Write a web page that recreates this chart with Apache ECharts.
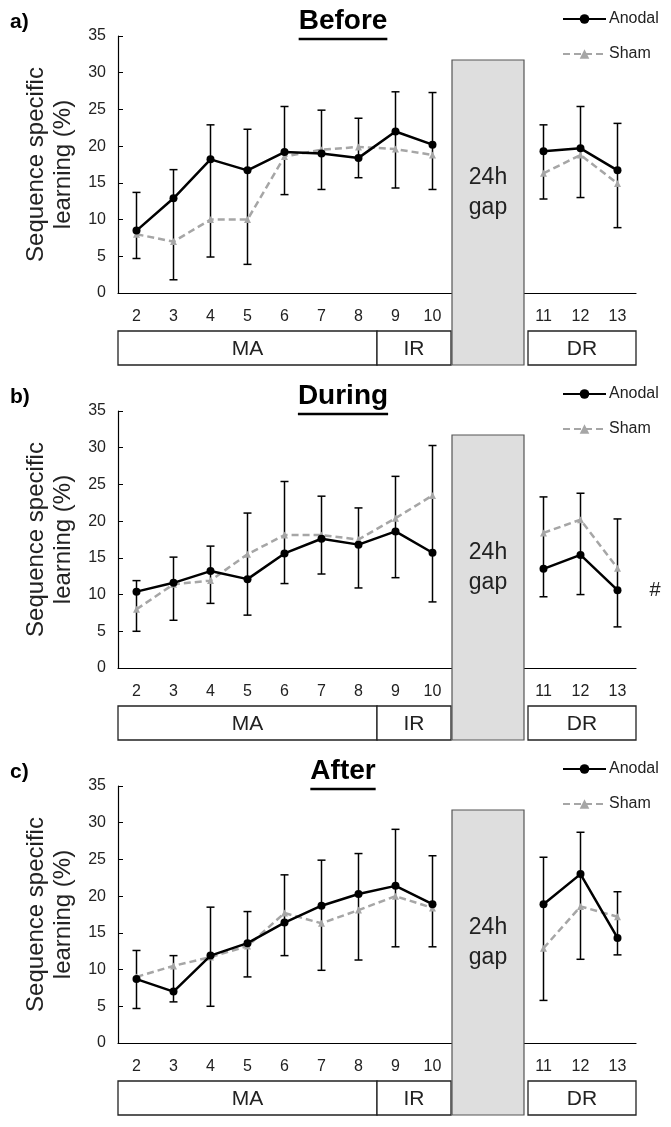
<!DOCTYPE html>
<html>
<head>
<meta charset="utf-8">
<script src="https://cdn.jsdelivr.net/npm/echarts@6/dist/echarts.min.js"></script>
<style>
  html, body { margin: 0; padding: 0; background: #fff; }
  #chart { width: 671px; height: 1127px; }
</style>
</head>
<body>
<div id="chart"></div>
<script>
// Sessions shown on the x axis; a 24h gap sits between 10 and 11.
var sessions = ['2', '3', '4', '5', '6', '7', '8', '9', '10', '11', '12', '13'];
var panelTitles = ['Before', 'During', 'After'];
var panelLetters = ['a)', 'b)', 'c)'];
var phaseNames = ['MA', 'IR', 'DR'];
var phaseFirst = ['2', '9', '11'];
var phaseLast = ['8', '10', '13'];

// a) Before
var beforeAnodal = [8.5, 12.9, 18.2, 16.7, 19.2, 19.0, 18.4, 22.0, 20.2, 19.3, 19.7, 16.7];
var beforeSham = [8.0, 7.0, 10.0, 10.0, 18.6, 19.5, 19.9, 19.6, 18.8, 16.3, 18.8, 14.9];
var beforeBarLow = [4.7, 1.8, 4.9, 3.9, 13.4, 14.1, 15.7, 14.3, 14.1, 12.8, 13.0, 8.9];
var beforeBarHigh = [13.7, 16.8, 22.9, 22.3, 25.4, 24.9, 23.8, 27.4, 27.3, 22.9, 25.4, 23.1];

// b) During
var duringAnodal = [10.4, 11.6, 13.2, 12.1, 15.6, 17.6, 16.8, 18.6, 15.7, 13.5, 15.4, 10.6];
var duringSham = [8.0, 11.4, 11.9, 15.5, 18.1, 18.1, 17.5, 20.4, 23.5, 18.4, 20.2, 13.6];
var duringBarLow = [5.0, 6.5, 8.8, 7.2, 11.5, 12.8, 10.9, 12.3, 9.0, 9.7, 10.0, 5.6];
var duringBarHigh = [11.9, 15.1, 16.6, 21.1, 25.4, 23.4, 21.8, 26.1, 30.3, 23.3, 23.8, 20.3];
var duringMarkSession = '13';

// c) After
var afterAnodal = [8.7, 7.0, 11.9, 13.6, 16.4, 18.7, 20.3, 21.4, 18.9, 18.9, 23.0, 14.3];
var afterSham = [9.0, 10.5, 11.7, 13.2, 17.7, 16.3, 18.1, 20.0, 18.4, 12.9, 18.6, 17.2];
var afterBarLow = [4.7, 5.6, 5.0, 9.0, 11.9, 9.9, 11.3, 13.1, 13.1, 5.8, 11.4, 12.0];
var afterBarHigh = [12.6, 11.9, 18.5, 17.9, 22.9, 24.9, 25.8, 29.1, 25.5, 25.3, 28.7, 20.6];

var yTicks = [0, 5, 10, 15, 20, 25, 30, 35];

var FONT = '"Liberation Sans", Arial, sans-serif';
var SHAM_COLOR = '#a6a6a6';
var PANEL_STEP = 375;
var GRID_TOP = 36;
var GRID_H = 257;

var panels = [
  { anodal: beforeAnodal, sham: beforeSham, lo: beforeBarLow, hi: beforeBarHigh },
  { anodal: duringAnodal, sham: duringSham, lo: duringBarLow, hi: duringBarHigh, mark: duringMarkSession },
  { anodal: afterAnodal, sham: afterSham, lo: afterBarLow, hi: afterBarHigh }
];

// Axis categories: sessions with two empty slots for the gap.
var GAP_AT = 9;
var axisCats = sessions.slice(0, GAP_AT).concat(['gapA', 'gapB'], sessions.slice(GAP_AT));
function axisIndex(session) { return axisCats.indexOf(session); }
function withGap(arr) { return arr.slice(0, GAP_AT).concat([null, null], arr.slice(GAP_AT)); }

function renderErr(params, api) {
  var x = api.value(0);
  var lo = api.coord([x, api.value(1)]);
  var hi = api.coord([x, api.value(2)]);
  var w = 4;
  var st = { stroke: '#000', lineWidth: 1.5 };
  return {
    type: 'group',
    children: [
      { type: 'line', shape: { x1: lo[0], y1: lo[1], x2: hi[0], y2: hi[1] }, style: st },
      { type: 'line', shape: { x1: lo[0] - w, y1: lo[1], x2: lo[0] + w, y2: lo[1] }, style: st },
      { type: 'line', shape: { x1: hi[0] - w, y1: hi[1], x2: hi[0] + w, y2: hi[1] }, style: st }
    ]
  };
}

var grids = [], xAxes = [], yAxes = [], series = [], legends = [];

panels.forEach(function (pd, p) {
  var T = p * PANEL_STEP;
  grids.push({ left: 118, right: 35, top: T + GRID_TOP, height: GRID_H });
  xAxes.push({
    type: 'category', gridIndex: p, data: axisCats, boundaryGap: true,
    axisLine: { lineStyle: { color: '#000', width: 1.2 } },
    axisTick: { inside: true, length: 5, interval: 0, lineStyle: { color: '#000' } },
    axisLabel: {
      interval: 0, margin: 16, fontSize: 16, color: '#222', fontFamily: FONT,
      formatter: function (v) { return v.indexOf('gap') === 0 ? '' : v; }
    }
  });
  yAxes.push({
    type: 'value', gridIndex: p, min: yTicks[0], max: yTicks[yTicks.length - 1], interval: yTicks[1] - yTicks[0],
    name: 'Sequence specific\nlearning (%)', nameLocation: 'middle', nameGap: 40,
    nameTextStyle: { fontSize: 24, lineHeight: 27, color: '#222', fontFamily: FONT },
    axisLine: { show: true, lineStyle: { color: '#000', width: 1.2 } },
    axisTick: { show: true, inside: true, length: 5, lineStyle: { color: '#000' } },
    axisLabel: { fontSize: 16, color: '#222', fontFamily: FONT, margin: 12 },
    splitLine: { show: false }
  });

  var anodalData = withGap(pd.anodal);
  if (pd.mark) {
    var mi = axisIndex(pd.mark);
    anodalData[mi] = {
      value: anodalData[mi],
      label: { show: true, formatter: '#', position: 'right', distance: 28, fontSize: 20, color: '#222', fontFamily: FONT }
    };
  }
  var errData = [];
  sessions.forEach(function (s, i) { errData.push([axisIndex(s), pd.lo[i], pd.hi[i]]); });

  series.push({
    type: 'custom', name: 'err' + p, xAxisIndex: p, yAxisIndex: p,
    renderItem: renderErr, data: errData, encode: { x: 0, y: [1, 2] }, z: 1, silent: true
  });
  series.push({
    type: 'line', name: 'Sham', xAxisIndex: p, yAxisIndex: p, data: withGap(pd.sham),
    connectNulls: false, symbol: 'triangle', symbolSize: 7, color: SHAM_COLOR,
    itemStyle: { color: SHAM_COLOR },
    lineStyle: { color: SHAM_COLOR, width: 2.5, type: [7, 4] }, z: 2
  });
  series.push({
    type: 'line', name: 'Anodal', xAxisIndex: p, yAxisIndex: p, data: anodalData,
    connectNulls: false, symbol: 'circle', symbolSize: 8, color: '#000',
    itemStyle: { color: '#000' },
    lineStyle: { color: '#000', width: 2.5 }, z: 3
  });

  legends.push({
    data: ['Anodal', 'Sham'], orient: 'vertical', left: 557, top: T + 6,
    itemWidth: 43, itemHeight: 12, itemGap: 19, selectedMode: false,
    textStyle: { fontSize: 16, color: '#222', fontFamily: FONT, padding: [0, 0, 0, -2] }
  });
});

var chart = echarts.init(document.getElementById('chart'), null, { renderer: 'canvas' });
chart.setOption({
  animation: false,
  backgroundColor: '#fff',
  grid: grids, xAxis: xAxes, yAxis: yAxes, legend: legends, series: series
});

// Decorations: titles, gap box, phase boxes, computed from the axes.
function textWidth(txt, font) {
  var c = document.createElement('canvas').getContext('2d');
  c.font = font;
  return c.measureText(txt).width;
}

var graphics = [];
panels.forEach(function (pd, p) {
  var T = p * PANEL_STEP;
  var finder = { gridIndex: p };
  var c0 = chart.convertToPixel(finder, [0, 0]);
  var c1 = chart.convertToPixel(finder, [1, 0]);
  var bw = c1[0] - c0[0];
  var axisY = c0[1];
  function leftEdge(i) { return chart.convertToPixel(finder, [i, 0])[0] - bw / 2; }
  function rightEdge(i) { return chart.convertToPixel(finder, [i, 0])[0] + bw / 2; }

  var boxTop = axisY + 38, boxBottom = axisY + 72;

  // title + underline
  var titleFont = 'bold 28px ' + FONT;
  var tw = textWidth(panelTitles[p], titleFont);
  graphics.push({
    type: 'text', left: 343 - tw / 2, top: T + 7, z: 10,
    style: { text: panelTitles[p], font: titleFont, fill: '#000' }
  });
  graphics.push({
    type: 'line', z: 10,
    shape: { x1: 343 - tw / 2, y1: T + 39, x2: 343 + tw / 2, y2: T + 39 },
    style: { stroke: '#000', lineWidth: 2.5 }
  });
  graphics.push({
    type: 'text', left: 10, top: T + 12, z: 10,
    style: { text: panelLetters[p], font: 'bold 21px ' + FONT, fill: '#000' }
  });

  // phase boxes
  phaseNames.forEach(function (name, k) {
    var x1 = leftEdge(axisIndex(phaseFirst[k]));
    var x2 = rightEdge(axisIndex(phaseLast[k]));
    if (k === 2) x1 += 3;
    graphics.push({
      type: 'rect', z: 5,
      shape: { x: x1, y: boxTop, width: x2 - x1, height: boxBottom - boxTop },
      style: { fill: '#fff', stroke: '#222', lineWidth: 1.3 }
    });
    graphics.push({
      type: 'text', z: 6, x: (x1 + x2) / 2, y: (boxTop + boxBottom) / 2 + 1,
      style: { text: name, font: '21px ' + FONT, fill: '#222', align: 'center', verticalAlign: 'middle' }
    });
  });

  // 24h gap box
  var gx1 = rightEdge(GAP_AT - 1) + 1;
  var gx2 = leftEdge(GAP_AT + 2) - 1;
  var gTop = T + GRID_TOP + 24;
  graphics.push({
    type: 'rect', z: 7,
    shape: { x: gx1, y: gTop, width: gx2 - gx1, height: boxBottom - gTop },
    style: { fill: '#dedede', stroke: '#555', lineWidth: 1.2 }
  });
  graphics.push({
    type: 'text', z: 8, x: (gx1 + gx2) / 2, y: T + 193,
    style: { text: '24h\ngap', font: '23px ' + FONT, fill: '#222', align: 'center', verticalAlign: 'middle', lineHeight: 30 }
  });
});

chart.setOption({ graphic: graphics });
</script>
</body>
</html>
